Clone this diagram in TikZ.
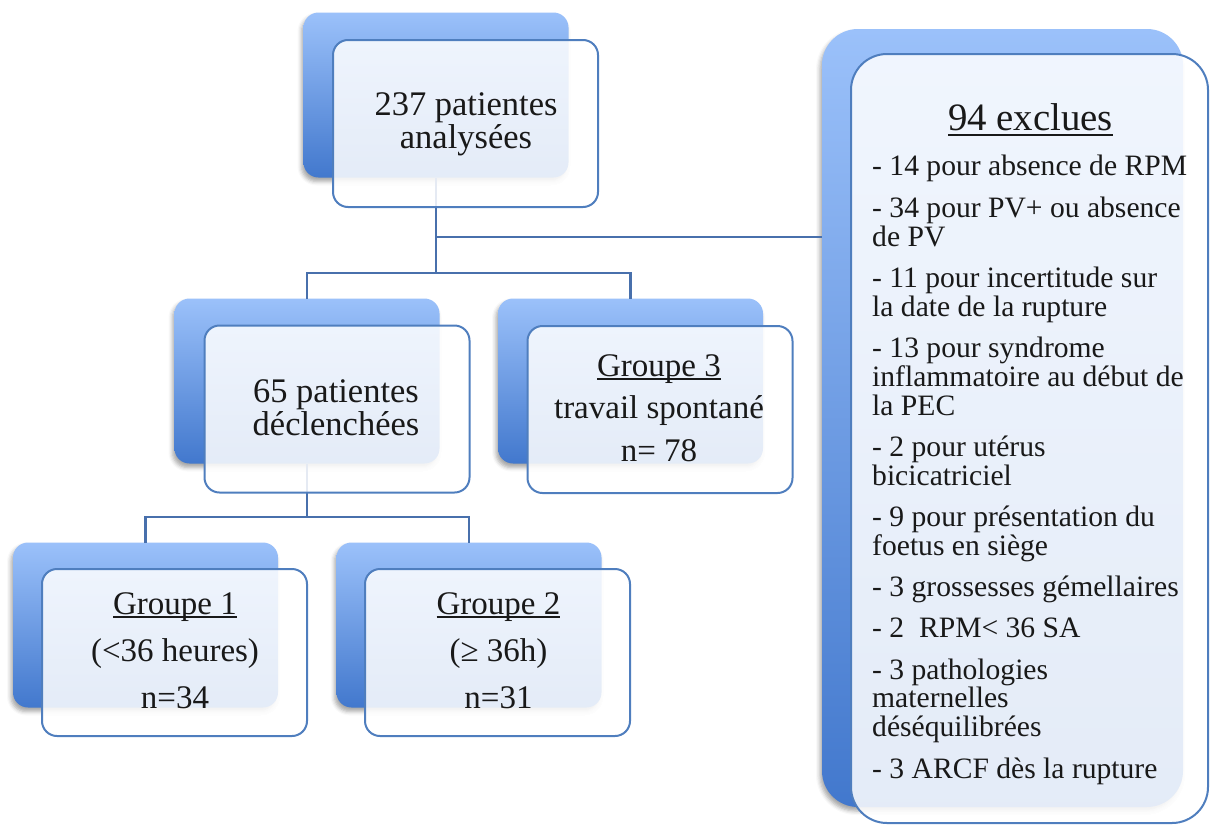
\documentclass[tikz,border=0pt]{standalone}
\usepackage{fontspec}
\setmainfont{Liberation Serif}
\usetikzlibrary{shadows.blur}
\definecolor{backtop}{RGB}{155,193,250}
\definecolor{backbot}{RGB}{66,120,205}
\definecolor{frontline}{RGB}{79,126,190}
\definecolor{connline}{RGB}{72,112,172}
\definecolor{txt}{RGB}{25,25,25}
\newcommand{\myul}[3]{\sbox0{#3}\rlap{\rule[-#1]{\wd0}{#2}}\usebox0}
\begin{document}
\begin{tikzpicture}[x=1pt,y=-1pt,
  backbox/.style={rectangle, rounded corners=15pt, top color=backtop, bottom color=backbot,
    draw=none, inner sep=0pt, outer sep=0pt, minimum width=265pt, minimum height=165pt,
    blur shadow={shadow xshift=-2pt, shadow yshift=-4pt, shadow blur radius=4pt, shadow opacity=35}},
  frontbox/.style={rectangle, rounded corners=15pt, fill=white, fill opacity=0.86,
    draw=frontline, draw opacity=1, line width=2pt, inner sep=0pt, outer sep=0pt,
    minimum width=265pt, minimum height=167pt},
  conn/.style={draw=connline, line width=2.2pt},
  boxtxt/.style={text=txt, inner sep=0pt, align=center, anchor=base},
  groupfont/.style={font=\fontsize{33}{47}\selectfont},
  mainfont/.style={font=\fontsize{34.5}{32.5}\selectfont}
]
\useasboundingbox (0,0) rectangle (1210,825);

% back boxes
\node[backbox] (Aback) at (436,95) {};
\node[backbox] (Bback) at (307,381) {};
\node[backbox] (Cback) at (630.5,381) {};
\node[backbox] (Dback) at (145.5,625) {};
\node[backbox] (Eback) at (469,625) {};
\node[backbox, rounded corners=36pt, minimum width=361pt, minimum height=778pt] (Fback) at (1002.5,418) {};

% connectors
\coordinate (j1) at (436,237);
\coordinate (j2) at (436,273);
\coordinate (j3) at (307,517);
\draw[conn] (Aback.south) -- (j2);
\draw[conn] (j1) -- (j1 -| Fback.west);
\draw[conn] (Bback.north) |- (j2) -| (Cback.north);
\draw[conn] (Bback.south) -- (j3);
\draw[conn] (Dback.north) |- (j3) -| (Eback.north);

% front boxes
\node[frontbox] (Afront) at (465.5,123.5) {};
\node[frontbox] (Bfront) at (337,409) {};
\node[frontbox] (Cfront) at (660,409.5) {};
\node[frontbox] (Dfront) at (174.5,652.5) {};
\node[frontbox] (Efront) at (497.5,652.5) {};
\node[frontbox, rounded corners=36pt, minimum width=357pt, minimum height=769pt] (Ffront) at (1029.5,438.5) {};

% texts (anchor base = baseline of the last line)
\node[boxtxt, mainfont] (tA) at (466,148) {237 patientes\\analysées};
\node[boxtxt, mainfont] (tB) at (336,435) {65 patientes\\déclenchées};
\node[boxtxt, font=\fontsize{33}{42.5}\selectfont] (tC) at (659,461)
  {\myul{3.5pt}{1.5pt}{Groupe 3}\\travail spontané\\n= 78};
\node[boxtxt, groupfont] (tD) at (175,708)
  {\myul{3.5pt}{1.5pt}{Groupe 1}\\(<36 heures)\\n=34};
\node[boxtxt, groupfont] (tE) at (498.5,708)
  {\myul{3.5pt}{1.5pt}{Groupe 2}\\(≥ 36h)\\n=31};
\node[boxtxt, font=\fontsize{38.8}{40}\selectfont] (tF) at (1030.5,130)
  {\myul{6pt}{2pt}{94 exclues}};
\node[text=txt, inner sep=0pt, align=left, anchor=base west,
  font=\fontsize{29.6}{28.8}\selectfont] (list) at (872,778)
  {- 14 pour absence de RPM\\[12.5pt]
   - 34 pour PV+ ou absence\\de PV\\[12.5pt]
   - 11 pour incertitude sur\\la date de la rupture\\[12.5pt]
   - 13 pour syndrome\\inflammatoire au début de\\la PEC\\[12.5pt]
   - 2 pour utérus\\bicicatriciel\\[12.5pt]
   - 9 pour présentation du\\foetus en siège\\[12.5pt]
   - 3 grossesses gémellaires\\[12.5pt]
   - 2\ \ RPM< 36 SA\\[12.5pt]
   - 3 pathologies\\maternelles\\déséquilibrées\\[12.5pt]
   - 3 ARCF dès la rupture};
\end{tikzpicture}
\end{document}
